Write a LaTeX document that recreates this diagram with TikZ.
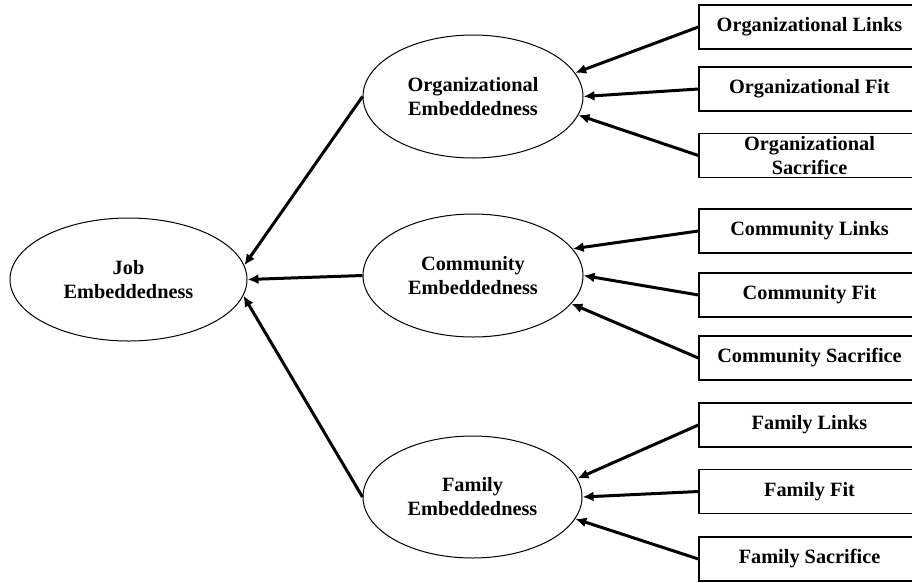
\documentclass[tikz,border=0pt]{standalone}
\usepackage{fontspec}
\setmainfont{Liberation Serif}
\usetikzlibrary{shapes.geometric,arrows.meta}
\begin{document}
\begin{tikzpicture}[x=1pt,y=-1pt,
  every node/.style={font=\fontsize{20.3}{24}\selectfont\bfseries, align=center},
  oval/.style={ellipse, draw, line width=1pt, inner sep=0pt},
  box/.style={rectangle, draw, line width=1.3pt, minimum width=221pt, minimum height=44pt, inner sep=0pt},
  arr/.style={line width=3pt, -{Latex[length=11pt,width=10pt]}}]
\useasboundingbox (0,0) rectangle (912,582);
\clip (0,0) rectangle (912,582);
% ellipses
\node[oval, minimum width=237pt, minimum height=123pt] (job) at (128.5,279.5) {Job\\Embeddedness};
\node[oval, minimum width=220pt, minimum height=123pt] (org) at (473,96.5) {Organizational\\Embeddedness};
\node[oval, minimum width=220pt, minimum height=123pt] (com) at (473,275.5) {Community\\Embeddedness};
\node[oval, minimum width=219pt, minimum height=122pt] (fam) at (472.5,497) {Family\\Embeddedness};
% boxes
\node[box] (ol) at (809.5,27) {Organizational Links};
\node[box] (of) at (809.5,89) {Organizational Fit};
\node[box] (os) at (809.5,155.5) {Organizational\\Sacrifice};
\node[box] (cl) at (809.5,231) {Community Links};
\node[box] (cf) at (809.5,295) {Community Fit};
\node[box] (cs) at (809.5,358) {Community Sacrifice};
\node[box] (fl) at (809.5,425) {Family Links};
\node[box] (ff) at (809.5,491.5) {Family Fit};
\node[box] (fs) at (809.5,559) {Family Sacrifice};
% arrows
\draw[arr] (ol.west) -- (org.13);
\draw[arr] (of.west) -- (org.0);
\draw[arr] (os.west) -- (org.-10);
\draw[arr] (cl.west) -- (com.15);
\draw[arr] (cf.west) -- (com.0);
\draw[arr] (cs.west) -- (com.-16.6);
\draw[arr] (fl.west) -- (fam.10.6);
\draw[arr] (ff.west) -- (fam.0);
\draw[arr] (fs.west) -- (fam.-12);
\draw[arr] (org.west) -- (job.7.5);
\draw[arr] (com.west) -- (job.0);
\draw[arr] (fam.west) -- (job.-8.4);
\end{tikzpicture}
\end{document}
